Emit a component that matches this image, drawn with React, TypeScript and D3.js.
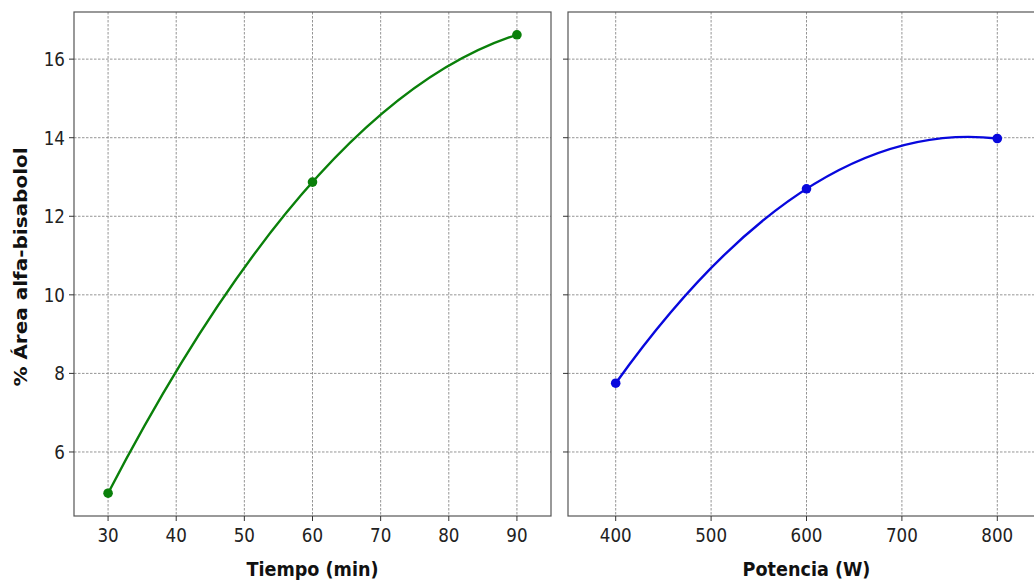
import React, { useEffect, useRef } from 'react';
import * as d3 from 'd3';

// datos
const tiempo = [30, 60, 90];
const areaTiempo = [4.95, 12.87, 16.62];
const potencia = [400, 600, 800];
const areaPotencia = [7.75, 12.7, 13.98];

const tiempoTicks = [30, 40, 50, 60, 70, 80, 90];
const potenciaTicks = [400, 500, 600, 700, 800];
const areaTicks = [6, 8, 10, 12, 14, 16];

const yLabel = '% Área alfa-bisabolol';
const xLabels = ['Tiempo (min)', 'Potencia (W)'];

const W = 1034;
const H = 582;
const top = 12;
const bottom = 516;
const sx = 0.88; // texto algo comprimido en horizontal

export default function App() {
    const ref = useRef<SVGSVGElement>(null);

    useEffect(() => {
        const svg = d3.select(ref.current);
        svg.selectAll('*').remove();

        const y = d3.scaleLinear().domain([4.37, 17.2]).range([bottom, top]);

        const panels = [
            { x: d3.scaleLinear().domain([25, 95]).range([74, 551]), xs: tiempo, ys: areaTiempo, ticks: tiempoTicks, color: '#0a800a', label: xLabels[0], yLabels: true },
            { x: d3.scaleLinear().domain([350, 850]).range([568, 1045]), xs: potencia, ys: areaPotencia, ticks: potenciaTicks, color: '#0808dd', label: xLabels[1], yLabels: false },
        ];

        panels.forEach((p, idx) => {
            const [x0, x1] = p.x.range();
            const g = svg.append('g');
            const clipId = 'clip' + idx;
            svg.append('clipPath').attr('id', clipId)
                .append('rect').attr('x', x0).attr('y', top).attr('width', x1 - x0).attr('height', bottom - top);

            const grid = g.append('g').attr('clip-path', `url(#${clipId})`);
            grid.selectAll('line.v').data(p.ticks).enter().append('line')
                .attr('x1', d => p.x(d)).attr('x2', d => p.x(d))
                .attr('y1', top).attr('y2', bottom)
                .attr('stroke', '#7a7a7a').attr('stroke-width', 0.8).attr('stroke-dasharray', '2.5 1.5');
            grid.selectAll('line.h').data(areaTicks).enter().append('line')
                .attr('x1', x0).attr('x2', x1)
                .attr('y1', d => y(d)).attr('y2', d => y(d))
                .attr('stroke', '#7a7a7a').attr('stroke-width', 0.8).attr('stroke-dasharray', '2.5 1.5');

            // ajuste cuadratico: una bezier cuadratica que pasa por los 3 puntos
            const pts = p.xs.map((v, i) => [p.x(v), y(p.ys[i])]);
            const path = d3.path();
            path.moveTo(pts[0][0], pts[0][1]);
            path.quadraticCurveTo(
                2 * pts[1][0] - (pts[0][0] + pts[2][0]) / 2,
                2 * pts[1][1] - (pts[0][1] + pts[2][1]) / 2,
                pts[2][0], pts[2][1]);
            grid.append('path').attr('d', path.toString())
                .attr('fill', 'none').attr('stroke', p.color).attr('stroke-width', 2.4);
            grid.selectAll('circle').data(pts).enter().append('circle')
                .attr('cx', d => d[0]).attr('cy', d => d[1]).attr('r', 4.8)
                .attr('fill', p.color);

            // marco
            g.append('rect').attr('x', x0).attr('y', top).attr('width', x1 - x0).attr('height', bottom - top)
                .attr('fill', 'none').attr('stroke', '#555').attr('stroke-width', 1.2);

            // ticks
            g.selectAll('line.xt').data(p.ticks).enter().append('line')
                .attr('x1', d => p.x(d)).attr('x2', d => p.x(d))
                .attr('y1', bottom).attr('y2', bottom + 5)
                .attr('stroke', '#333').attr('stroke-width', 1);
            g.selectAll('line.yt').data(areaTicks).enter().append('line')
                .attr('x1', x0 - 5).attr('x2', x0)
                .attr('y1', d => y(d)).attr('y2', d => y(d))
                .attr('stroke', '#333').attr('stroke-width', 1);

            g.selectAll('text.xl').data(p.ticks).enter().append('text')
                .attr('transform', d => `translate(${p.x(d)},542) scale(${sx},1)`)
                .attr('text-anchor', 'middle')
                .attr('font-family', 'DejaVu Sans').attr('font-size', 19).attr('fill', '#222')
                .text(d => d);

            if (p.yLabels) {
                g.selectAll('text.yl').data(areaTicks).enter().append('text')
                    .attr('transform', d => `translate(${x0 - 9},${y(d)}) scale(${sx},1)`)
                    .attr('dy', '0.36em')
                    .attr('text-anchor', 'end')
                    .attr('font-family', 'DejaVu Sans').attr('font-size', 19).attr('fill', '#222')
                    .text(d => d);
            }

            g.append('text')
                .attr('transform', `translate(${(x0 + x1) / 2},576) scale(${sx},1)`)
                .attr('text-anchor', 'middle')
                .attr('font-family', 'DejaVu Sans').attr('font-weight', 'bold').attr('font-size', 20).attr('fill', '#111')
                .text(p.label);
        });

        svg.append('text')
            .attr('transform', `translate(27,267) scale(${sx},1) rotate(-90)`)
            .attr('text-anchor', 'middle')
            .attr('font-family', 'DejaVu Sans').attr('font-weight', 'bold').attr('font-size', 20).attr('fill', '#111')
            .text(yLabel);
    }, []);

    return (
        <svg ref={ref} width={W} height={H}
            style={{ position: 'absolute', left: 0, top: 0, background: '#fff' }} />
    );
}
